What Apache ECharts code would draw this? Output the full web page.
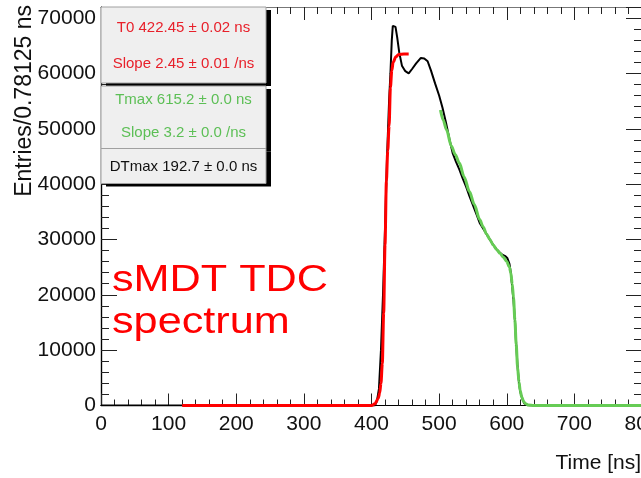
<!DOCTYPE html>
<html>
<head>
<meta charset="utf-8">
<script src="https://cdn.jsdelivr.net/npm/echarts@6/dist/echarts.min.js"></script>
<style>
  html, body { margin: 0; padding: 0; background: #fff; }
  #chart { width: 641px; height: 478px; }
</style>
</head>
<body>
<div id="chart"></div>
<script>
// Measured drift-time histogram (ns, entries per 0.78125 ns bin)
const histTime = [0, 405, 408, 411, 414, 417, 420, 423, 426, 428, 430, 431.5, 435.5, 438, 441, 445, 450, 455, 460, 466, 473, 478, 483, 488, 494, 500, 505, 510, 515, 520, 525, 530, 535, 540, 545, 550, 555, 560, 565, 570, 575, 580, 585, 590, 594, 598, 601, 604, 606, 608, 610, 612, 614, 616, 618, 620, 623, 626, 630, 634, 800];
const histCounts = [0, 0, 800, 3000, 10000, 20000, 32000, 45000, 55000, 60000, 66000, 68600, 68400, 66500, 63800, 61400, 60400, 60000, 60800, 61800, 62800, 62700, 62200, 60500, 58200, 56000, 53800, 51200, 48300, 45600, 44000, 42600, 41000, 39500, 37800, 36200, 34600, 33000, 32000, 31000, 30000, 29000, 28200, 27600, 27200, 27000, 26600, 25600, 24000, 21500, 19000, 15500, 11000, 7000, 4200, 2500, 1200, 400, 100, 0, 0];

// Leading-edge fit (T0)
const t0FitTime = [120, 400, 405, 410, 412, 414, 416, 418, 420, 422, 424, 426, 428, 430, 432, 436, 440, 448, 455];
const t0FitCounts = [0, 0, 300, 1300, 2200, 4000, 7600, 16700, 29000, 40500, 46000, 50500, 57500, 60500, 62000, 63000, 63400, 63500, 63500];

// Trailing-edge fit (Tmax)
const tmaxFitTime = [502, 506, 511, 518, 524, 530, 537, 545, 552, 560, 565, 570, 575, 580, 585, 590, 595, 600, 604, 606, 608, 610, 612, 614, 616, 618, 620, 622, 625, 628, 632, 640, 800];
const tmaxFitCounts = [53400, 51600, 49800, 46900, 45300, 43800, 41300, 38600, 36300, 33600, 32300, 31000, 30000, 29000, 28200, 27500, 26800, 26000, 25000, 24000, 22000, 19500, 15500, 11000, 7000, 4300, 2600, 1600, 700, 300, 80, 0, 0];

// Fit results shown in the stat boxes
const t0Lines = ['T0 422.45 \u00b1 0.02 ns', 'Slope 2.45 \u00b1 0.01 /ns'];
const tmaxLines = ['Tmax 615.2 \u00b1 0.0 ns', 'Slope 3.2 \u00b1 0.0 /ns'];
const dtLines = ['DTmax 192.7 \u00b1 0.0 ns'];

const xMin = 0, xMax = 800, xMajor = 100, xMinor = 20;
const yMin = 0, yMax = 72000, yMajor = 10000, yMinor = 2000;

const FONT = 'Liberation Sans, Arial, Helvetica, sans-serif';
const RED = '#ff0000';
const GREEN = '#66cc55';

const zip = (xs, ys) => xs.map((x, i) => [x, ys[i]]);

function xAxisDef(position, interval, tickLen, showLabel, lineColor) {
  return {
    type: 'value', position, min: xMin, max: xMax, interval,
    axisLine: { show: true, onZero: false, lineStyle: { color: lineColor, width: 1.2 } },
    axisTick: { show: true, inside: true, length: tickLen, lineStyle: { color: '#222', width: 1 } },
    axisLabel: {
      show: showLabel, fontSize: 21, color: '#111', fontFamily: FONT, margin: 8,
      hideOverlap: false, formatter: v => String(v)
    },
    splitLine: { show: false }
  };
}
function yAxisDef(position, interval, tickLen, showLabel, lineColor) {
  return {
    type: 'value', position, min: yMin, max: yMax, interval,
    axisLine: { show: true, onZero: false, lineStyle: { color: lineColor, width: 1.2 } },
    axisTick: { show: true, inside: true, length: tickLen, lineStyle: { color: '#222', width: 1 } },
    axisLabel: {
      show: showLabel, fontSize: 21, color: '#111', fontFamily: FONT, margin: 5,
      showMaxLabel: false, formatter: v => String(v)
    },
    splitLine: { show: false }
  };
}

function statBox(x, y, w, h, lines, color, lineYs) {
  const shadow = 5;
  const els = [
    { type: 'rect', shape: { x: x + shadow, y: y + 3, width: w, height: h }, style: { fill: '#000' }, z: 10 },
    { type: 'rect', shape: { x, y, width: w, height: h }, style: { fill: '#efefef', stroke: '#a0a0a0', lineWidth: 1 }, z: 11 }
  ];
  lines.forEach((t, i) => {
    els.push({
      type: 'text', x: x + w / 2, y: lineYs[i], z: 12,
      style: { text: t, fill: color, font: '15px ' + FONT, textAlign: 'center', textVerticalAlign: 'middle' }
    });
  });
  return els;
}

const chart = echarts.init(document.getElementById('chart'), null, { renderer: 'canvas' });

chart.setOption({
  animation: false,
  backgroundColor: '#ffffff',
  grid: { left: 101, right: -1, top: 7, bottom: 72.5, containLabel: false, outerBoundsMode: 'none' },
  xAxis: [
    xAxisDef('bottom', xMajor, 12, true, '#000'),
    xAxisDef('bottom', xMinor, 6, false, '#000'),
    xAxisDef('top', xMajor, 13, false, '#777'),
    xAxisDef('top', xMinor, 7, false, '#777')
  ],
  yAxis: [
    yAxisDef('left', yMajor, 16, true, '#000'),
    yAxisDef('left', yMinor, 8, false, '#000'),
    yAxisDef('right', yMajor, 16, false, '#777'),
    yAxisDef('right', yMinor, 8, false, '#777')
  ],
  series: [
    {
      type: 'line', xAxisIndex: 0, yAxisIndex: 0, showSymbol: false,
      data: zip(histTime, histCounts),
      lineStyle: { color: '#000', width: 2 }, z: 2
    },
    {
      type: 'line', xAxisIndex: 0, yAxisIndex: 0, showSymbol: false, smooth: 0.3, smoothMonotone: 'x',
      data: zip(t0FitTime, t0FitCounts),
      lineStyle: { color: RED, width: 3 }, z: 3
    },
    {
      type: 'line', xAxisIndex: 0, yAxisIndex: 0, showSymbol: false, smooth: 0.3, smoothMonotone: 'x',
      data: zip(tmaxFitTime, tmaxFitCounts),
      lineStyle: { color: GREEN, width: 3 }, z: 3
    }
  ],
  graphic: [
    ...statBox(101, 7, 165, 76, t0Lines, '#e8202a', [28, 64]),
    ...statBox(101, 86, 165, 62.5, tmaxLines, '#5cbf55', [100, 133]),
    ...statBox(101, 148.5, 165, 35, dtLines, '#111', [167]),
    {
      type: 'text', x: 25, y: 5, rotation: Math.PI / 2, z: 5,
      style: { text: 'Entries/0.78125 ns', fill: '#111', font: '23px ' + FONT, textAlign: 'right', textVerticalAlign: 'middle' }
    },
    {
      type: 'text', x: 641, y: 463, z: 5,
      style: { text: 'Time [ns]', fill: '#111', font: '21px ' + FONT, textAlign: 'right', textVerticalAlign: 'middle' }
    },
    {
      type: 'text', x: 112, y: 281, scaleX: 1.2, z: 5,
      style: { text: 'sMDT TDC', fill: RED, font: '36px ' + FONT, textAlign: 'left', textVerticalAlign: 'middle' }
    },
    {
      type: 'text', x: 112, y: 323, scaleX: 1.2, z: 5,
      style: { text: 'spectrum', fill: RED, font: '36px ' + FONT, textAlign: 'left', textVerticalAlign: 'middle' }
    }
  ]
});
</script>
</body>
</html>
